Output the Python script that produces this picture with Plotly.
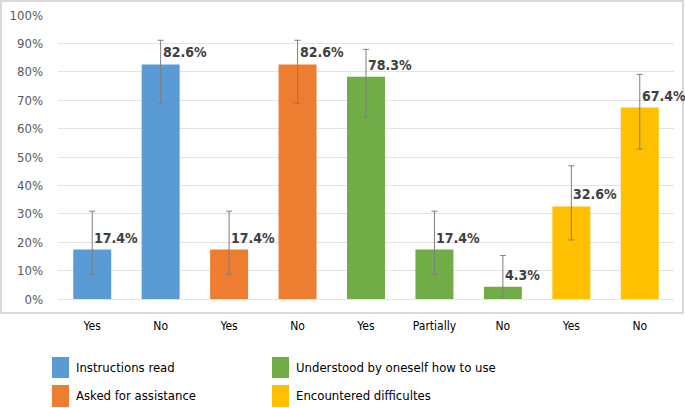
import plotly.graph_objects as go

categories = ["Yes", "No", "Yes", "No", "Yes", "Partially", "No", "Yes", "No"]
groups = ["Instructions read", "Instructions read",
          "Asked for assistance", "Asked for assistance",
          "Understood by oneself how to use", "Understood by oneself how to use",
          "Understood by oneself how to use",
          "Encountered difficultes", "Encountered difficultes"]
values = [17.4, 82.6, 17.4, 82.6, 78.3, 17.4, 4.3, 32.6, 67.4]
ci_upper = [30.9, 91.1, 30.9, 91.1, 87.9, 30.9, 15.3, 46.9, 79.1]
ci_lower = [8.7, 68.9, 8.7, 68.9, 64.2, 8.7, 0.4, 20.8, 52.8]
y_ticks = [0, 10, 20, 30, 40, 50, 60, 70, 80, 90, 100]

group_colors = {
    "Instructions read": "#5B9BD5",
    "Asked for assistance": "#ED7D31",
    "Understood by oneself how to use": "#70AD47",
    "Encountered difficultes": "#FFC000",
}
legend_order = ["Instructions read", "Asked for assistance",
                "Understood by oneself how to use", "Encountered difficultes"]

FONT = "DejaVu Sans Condensed, DejaVu Sans, sans-serif"

x_pos = list(range(len(categories)))
fig = go.Figure()
fig.add_trace(go.Bar(
    x=x_pos, y=values, width=0.555,
    marker=dict(color=[group_colors[g] for g in groups], line=dict(width=0)),
    error_y=dict(type="data", symmetric=False,
                 array=[u - v for u, v in zip(ci_upper, values)],
                 arrayminus=[v - l for v, l in zip(values, ci_lower)],
                 color="#7f7f7f", thickness=1, width=3),
    showlegend=False, hoverinfo="skip",
))

for i, v in enumerate(values):
    fig.add_annotation(x=i, y=v, xref="x", yref="y", text=f"{v}%",
                       showarrow=False, xanchor="left", yanchor="middle",
                       xshift=0, yshift=12,
                       font=dict(family=FONT, size=14, color="#404040", weight="bold"))

# outer chart border
fig.add_shape(type="rect", xref="paper", yref="paper",
              x0=-0.0925, x1=1.0146, y0=-0.0493, y1=1.049,
              line=dict(color="#d9d9d9", width=2), fillcolor="rgba(0,0,0,0)", layer="below")

# legend (2 columns)
sw_x = [(-0.0097, 0.0179), (0.3474, 0.375)]
sw_y = [(-0.2782, -0.2042), (-0.3803, -0.3028)]
txt_x = [0.026, 0.383]
txt_y = [-0.2412, -0.3415]
for k, g in enumerate(legend_order):
    col, row = k // 2, k % 2
    fig.add_shape(type="rect", xref="paper", yref="paper",
                  x0=sw_x[col][0], x1=sw_x[col][1], y0=sw_y[row][0], y1=sw_y[row][1],
                  fillcolor=group_colors[g], line=dict(width=0))
    fig.add_annotation(x=txt_x[col], y=txt_y[row], xref="paper", yref="paper",
                       text=g, showarrow=False, xanchor="left", yanchor="middle",
                       font=dict(family=FONT, size=13, color="#000000"))

fig.update_layout(
    width=685, height=408,
    margin=dict(l=58, r=11, t=15, b=109, autoexpand=False),
    paper_bgcolor="white", plot_bgcolor="white",
    font=dict(family=FONT),
    bargap=0.445,
    xaxis=dict(tickmode="array", tickvals=x_pos, ticktext=categories,
               range=[-0.5, len(categories) - 0.5], showgrid=False, zeroline=False,
               showline=False, ticks="", ticklabelstandoff=18, automargin=False,
               tickfont=dict(family=FONT, size=12, color="#000000")),
    yaxis=dict(range=[0, 100], tickvals=y_ticks, ticktext=[f"{t}%" for t in y_ticks],
               showgrid=True, gridcolor="#e3e3e3", gridwidth=1, zeroline=True,
               zerolinecolor="#e3e3e3", zerolinewidth=1, showline=False, ticks="",
               ticklabelstandoff=14, automargin=False,
               tickfont=dict(family=FONT, size=13, color="#595959")),
)

fig.write_html("out.html", config={"displayModeBar": False},
               post_script="document.body.style.margin='0';")
